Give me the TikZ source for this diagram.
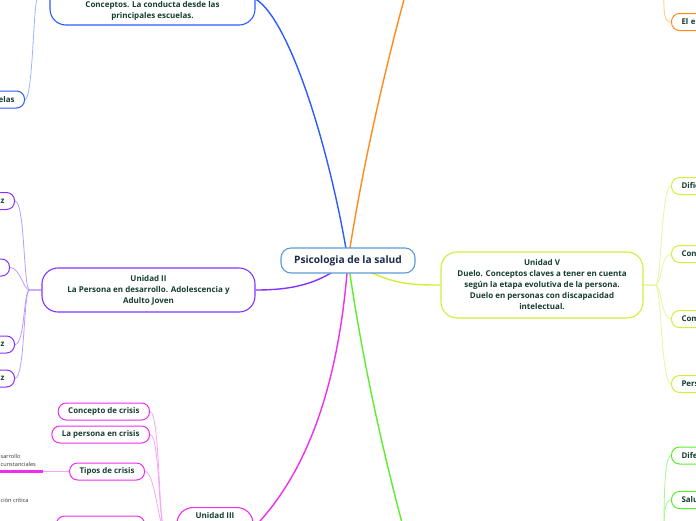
\documentclass[tikz,border=0pt]{standalone}
\usepackage{fontspec}
\setmainfont{Open Sans}
\usepackage{tikz}
\usetikzlibrary{calc,backgrounds}
\definecolor{ROOTLINE}{HTML}{5B9BD5}
\definecolor{ROOTINK}{HTML}{1B2A4A}
\definecolor{INK}{HTML}{163D2E}
\definecolor{GREYINK}{HTML}{333333}
\definecolor{BLUE}{HTML}{2B5CFF}
\definecolor{BLUELITE}{HTML}{9DB4FF}
\definecolor{PURPLE}{HTML}{8533FF}
\definecolor{PURPLITE}{HTML}{BB9BFF}
\definecolor{MAGENTA}{HTML}{EE2EEE}
\definecolor{MAGLITE}{HTML}{F7A3F7}
\definecolor{YELLOW}{HTML}{D2EE3A}
\definecolor{YELLITE}{HTML}{E6F5A0}
\definecolor{ORANGE}{HTML}{FF8C1A}
\definecolor{ORLITE}{HTML}{FFC98A}
\definecolor{GREEN}{HTML}{5CEE2A}
\definecolor{GRLITE}{HTML}{A8F590}

\begin{document}
\begin{tikzpicture}[x=1pt,y=-1pt]
\tikzset{rootbox/.style={draw=ROOTLINE,line width=1.1pt,rounded corners=10pt,fill=white,text=ROOTINK,
  font=\bfseries\fontsize{10.2}{12}\selectfont,minimum width=134,minimum height=25,inner sep=0pt},
 unitbox/.style={draw=#1,line width=1.1pt,rounded corners=16pt,fill=white,text=INK,align=center,
  font=\bfseries\fontsize{8}{11}\selectfont,inner sep=0pt},
 leaf/.style={draw=#1,line width=1pt,rounded corners=8pt,fill=white,text=INK,
  font=\bfseries\fontsize{7.9}{9}\selectfont,minimum height=17,inner xsep=10pt,inner ysep=0pt},
 note/.style={text=GREYINK,font=\fontsize{5.6}{8}\selectfont,inner sep=0pt,align=left},
 branch/.style={line width=1.4pt,#1},twig/.style={line width=0.8pt,#1}}
\useasboundingbox (0,0) rectangle (696,520);
% centre and units
\node[rootbox] (root) at (348,260.5) {Psicologia de la salud};
\node[unitbox=BLUE,minimum width=205,minimum height=52] (u1) at (152.5,-1)
 {\strut\\\strut\\Conceptos. La conducta desde las\\principales escuelas.};
\node[unitbox=PURPLE,minimum width=213,minimum height=44] (u2) at (148.5,290)
 {Unidad II\\La Persona en desarrollo. Adolescencia y\\Adulto Joven};
\node[unitbox=MAGENTA,minimum width=76,minimum height=41,anchor=north] (u3) at (215,507)
 {Unidad III\\\strut\\\strut};
\node[unitbox=YELLOW,minimum width=202,minimum height=66] (u5) at (542,285)
 {Unidad V\\Duelo. Conceptos claves a tener en cuenta\\según la etapa evolutiva de la persona.\\Duelo en personas con discapacidad\\intelectual.};
\coordinate (u4) at (415,-40);
\coordinate (u6) at (412,560);
% left leaves
\node[leaf=BLUE,anchor=east,text width=50,align=right] (b1) at (25,99.5) {elas};
\node[leaf=PURPLE,anchor=east,text width=40,align=right] (p1) at (15,201) {z};
\node[leaf=PURPLE,anchor=east,text width=40,align=right] (p2) at (10,267.5) {};
\node[leaf=PURPLE,anchor=east,text width=40,align=right] (p3) at (15,344.5) {z};
\node[leaf=PURPLE,anchor=east,text width=40,align=right] (p4) at (15,378.5) {z};
\node[leaf=MAGENTA,anchor=east] (m1) at (150,411.5) {Concepto de crisis};
\node[leaf=MAGENTA,anchor=east] (m2) at (150,434.5) {La persona en crisis};
\node[leaf=MAGENTA,anchor=east] (m3) at (145,471.5) {Tipos de crisis};
\node[leaf=MAGENTA,anchor=east,minimum width=88] (m4) at (145,524.5) {};
\node[note,anchor=west] (m31) at (0.5,460) {sarrollo\\cunstanciales};
\node[note,anchor=west] (m32) at (0.5,500) {ción crítica};
\coordinate (m31r) at (43,471.5);
\coordinate (m31l) at (-10,471.5);
% right leaves
\node[leaf=ORANGE,anchor=west,text width=50,align=left] (o1) at (671,22) {El e};
\node[leaf=YELLOW,anchor=west,text width=50,align=left] (y1) at (671,186) {Dific};
\node[leaf=YELLOW,anchor=west,text width=50,align=left] (y2) at (671,254) {Con};
\node[leaf=YELLOW,anchor=west,text width=50,align=left] (y3) at (671,319) {Com};
\node[leaf=YELLOW,anchor=west,text width=50,align=left] (y4) at (671,384) {Pers};
\node[leaf=GREEN,anchor=west,text width=50,align=left] (g1) at (671,455.5) {Dife};
\node[leaf=GREEN,anchor=west,text width=50,align=left] (g2) at (671,500) {Salu};
\coordinate (o0) at (664,-40);
\coordinate (g0) at (664,560);
\begin{pgfonlayer}{background}
% main branches
\draw[branch=BLUE] (root.center) .. controls (330,150) and (290,20) .. (u1.east);
\draw[branch=ORANGE] (root.center) .. controls (365,150) and (392,40) .. (u4);
\draw[branch=PURPLE] (root.center) .. controls (320,285) and (290,290) .. (u2.east);
\draw[branch=YELLOW] (root.center) .. controls (390,285) and (410,285) .. (u5.west);
\draw[branch=MAGENTA] (root.center) .. controls (338,400) and (300,480) .. (u3.east);
\draw[branch=GREEN] (root.center) .. controls (365,380) and (390,480) .. (u6);
% twigs
\draw[twig=BLUELITE] (u1.west) -- ++(-12,0) .. controls +(-4,0) and +(8,0) .. (b1.east);
\foreach \c in {p1,p2,p3,p4}
 \draw[twig=PURPLITE] (u2.west) -- ++(-12,0) .. controls +(-6,0) and +(10,0) .. (\c.east);
\foreach \c in {m1,m2,m3,m4}
 \draw[twig=MAGLITE] (u3.west) -- ++(-12,0) .. controls +(-6,0) and +(10,0) .. (\c.east);
\draw[twig=MAGLITE] (m3.west) -- (m31r);
\draw[line width=2.2pt,MAGENTA] (m31r) -- (m31l);
\foreach \c in {y1,y2,y3,y4}
 \draw[twig=YELLITE] (u5.east) -- ++(12,0) .. controls +(6,0) and +(-10,0) .. (\c.west);
\draw[twig=ORLITE] (o0) .. controls (664,10) and (662,22) .. (o1.west);
\foreach \c in {g1,g2}
 \draw[twig=GRLITE] (g0) .. controls +(0,-40) and +(-8,0) .. (\c.west);
\end{pgfonlayer}
\end{tikzpicture}
\end{document}
